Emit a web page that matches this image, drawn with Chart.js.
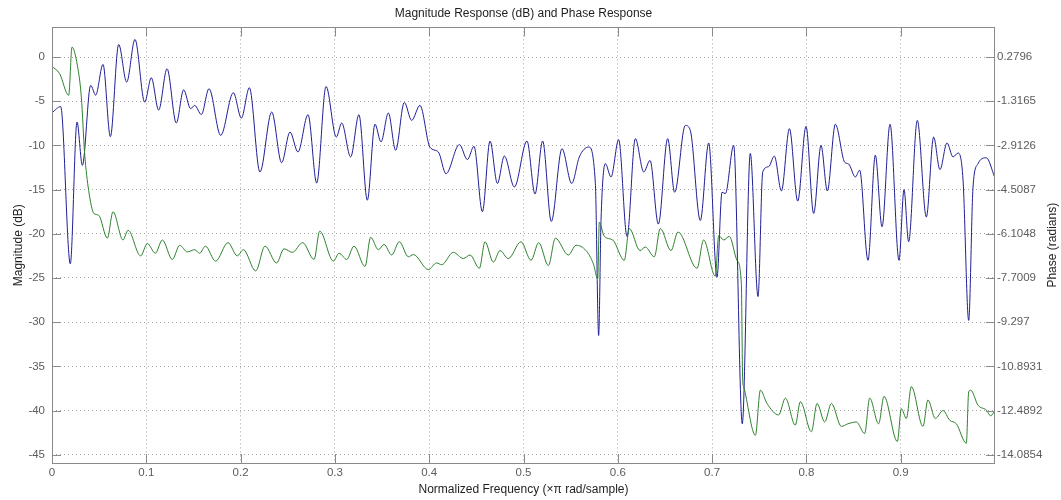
<!DOCTYPE html>
<html>
<head>
<meta charset="utf-8">
<script src="https://cdn.jsdelivr.net/npm/chart.js@4/dist/chart.umd.min.js"></script>
<style>
  body { margin: 0; background: #ffffff; }
  canvas { display: block; }
</style>
</head>
<body>
<canvas id="freqz" width="1061" height="500"></canvas>
<script>
// Magnitude response (blue): frequency (x pi rad/sample) and dB
const magFreq = [0.000, 0.0092, 0.0194, 0.0265, 0.0322, 0.041, 0.0463, 0.0541, 0.0619, 0.0707,
  0.0792, 0.088, 0.0983, 0.1053, 0.1131, 0.122, 0.1318, 0.1396, 0.147, 0.1513,
  0.1584, 0.1665, 0.1789, 0.1923, 0.2008, 0.2093, 0.2205, 0.233, 0.2435, 0.2524,
  0.2608, 0.2715, 0.2807, 0.2906, 0.3015, 0.3072, 0.3167, 0.3255, 0.3344, 0.3425,
  0.3489, 0.3567, 0.3644, 0.3736, 0.3814, 0.3902, 0.4008, 0.4097, 0.4178, 0.432,
  0.4405, 0.4475, 0.4564, 0.4645, 0.4723, 0.4797, 0.4903, 0.5037, 0.5122, 0.5203,
  0.5295, 0.5408, 0.5511, 0.5592, 0.5691, 0.5762, 0.5797, 0.5822, 0.5868, 0.5928,
  0.6009, 0.6098, 0.6186, 0.6275, 0.6342, 0.643, 0.6529, 0.6603, 0.6716, 0.6769,
  0.6875, 0.6964, 0.7052, 0.7105, 0.7141, 0.7229, 0.732, 0.7405, 0.7487, 0.7537,
  0.76, 0.766, 0.7735, 0.782, 0.7908, 0.7996, 0.8077, 0.8155, 0.8222, 0.8307,
  0.8406, 0.8448, 0.8519, 0.8565, 0.8653, 0.8731, 0.8802, 0.8887, 0.8982, 0.9035,
  0.9084, 0.9176, 0.9272, 0.9349, 0.9416, 0.9491, 0.9555, 0.9608, 0.9661, 0.9721,
  0.9767, 0.982, 0.9908, 0.9996];
const magDb = [-6.3, -5.6, -23.4, -7.35, -12.25, -3.2, -4.3, -0.83, -9.0, 1.43,
  -2.83, 2.0, -5.1, -2.34, -6.0, -1.32, -7.46, -3.7, -5.84, -5.47,
  -6.5, -3.58, -8.86, -4.03, -6.9, -3.47, -13.0, -6.22, -11.95, -8.48,
  -10.74, -6.52, -14.25, -3.32, -9.05, -7.46, -11.3, -6.52, -16.2, -7.6,
  -9.6, -6.33, -10.55, -5.13, -7.16, -5.47, -10.2, -10.74, -13.2, -9.9,
  -11.6, -10.1, -17.5, -9.5, -14.3, -11.2, -14.7, -9.5, -15.5, -9.5,
  -18.6, -10.37, -14.3, -11.3, -10.18, -14.3, -31.5, -18.5, -12.06, -13.57,
  -9.35, -20.3, -9.23, -13.0, -11.7, -18.9, -9.23, -15.3, -7.73, -8.3,
  -18.5, -9.72, -24.9, -15.3, -15.45, -10.0, -41.5, -10.9, -27.1, -13.0,
  -12.4, -11.2, -15.15, -8.1, -16.3, -7.84, -17.7, -10.0, -15.15, -7.6,
  -11.9, -12.1, -13.57, -12.8, -23.0, -11.1, -19.2, -7.6, -23.0, -15.0,
  -20.9, -7.16, -18.1, -9.05, -12.74, -9.72, -11.3, -10.86, -13.9, -29.8,
  -14.7, -12.06, -11.4, -13.57];

// Phase response (green), in radians
const phaseFreq = [0.000, 0.0081, 0.0177, 0.0212, 0.0269, 0.0311, 0.0346, 0.0389, 0.0445, 0.0495,
  0.0587, 0.0647, 0.0753, 0.0806, 0.094, 0.1011, 0.1096, 0.117, 0.1276, 0.1354,
  0.1435, 0.1513, 0.1566, 0.1626, 0.1735, 0.1866, 0.1965, 0.2029, 0.216, 0.2259,
  0.2382, 0.246, 0.2549, 0.2658, 0.2779, 0.2839, 0.2984, 0.3044, 0.3125, 0.3203,
  0.3319, 0.3379, 0.3461, 0.3521, 0.3602, 0.3683, 0.3779, 0.3832, 0.3991, 0.4079,
  0.4132, 0.4256, 0.4362, 0.4433, 0.4532, 0.4592, 0.468, 0.4751, 0.4839, 0.4973,
  0.508, 0.5161, 0.5264, 0.5338, 0.5476, 0.5557, 0.5663, 0.5741, 0.5787, 0.5804,
  0.5857, 0.5946, 0.6069, 0.6122, 0.6235, 0.6292, 0.6387, 0.6451, 0.6564, 0.6638,
  0.684, 0.691, 0.7034, 0.707, 0.7123, 0.7183, 0.7264, 0.731, 0.7324, 0.7335,
  0.7459, 0.7512, 0.7582, 0.7706, 0.7777, 0.7882, 0.7936, 0.8053, 0.8113, 0.8194,
  0.8265, 0.8371, 0.8441, 0.853, 0.8618, 0.8671, 0.8766, 0.8823, 0.8964, 0.9007,
  0.906, 0.9113, 0.9236, 0.9289, 0.9367, 0.9449, 0.9519, 0.959, 0.9696, 0.9721,
  0.9742, 0.982, 0.9908, 0.9954, 1.0];
const phaseRad = [-0.059, -0.320, -1.103, 0.640, -0.020, -1.163, -3.200, -4.541, -5.371, -5.434,
  -6.264, -5.307, -6.328, -5.977, -6.903, -6.456, -6.807, -6.328, -7.031, -6.520,
  -6.759, -6.679, -6.807, -6.552, -7.094, -6.424, -6.903, -6.679, -7.446, -6.552,
  -7.158, -6.647, -6.775, -6.424, -7.031, -6.009, -7.094, -6.807, -7.031, -6.552,
  -7.286, -6.232, -6.679, -6.488, -6.871, -6.392, -6.935, -6.855, -7.398, -7.158,
  -7.222, -6.775, -6.999, -6.871, -7.350, -6.392, -7.126, -6.711, -6.999, -6.392,
  -7.062, -6.424, -7.254, -6.264, -6.871, -6.520, -6.711, -7.190, -7.733, -5.690,
  -6.200, -6.328, -7.062, -5.913, -6.711, -6.584, -6.935, -5.913, -6.711, -6.041,
  -7.350, -6.328, -7.637, -6.168, -6.328, -6.200, -7.062, -7.892, -11.340, -11.627,
  -13.383, -11.755, -12.234, -12.649, -12.042, -13.016, -12.170, -13.255, -12.234, -12.904,
  -12.234, -13.064, -12.968, -12.904, -13.319, -12.042, -12.968, -11.978, -13.606, -12.425,
  -12.777, -11.627, -13.064, -12.106, -12.777, -12.489, -12.840, -12.968, -13.670, -11.819,
  -11.755, -12.298, -12.473, -12.681, -12.489];

// tick labels
const freqTicks = [0, 0.1, 0.2, 0.3, 0.4, 0.5, 0.6, 0.7, 0.8, 0.9];
const magTicks = [-45, -40, -35, -30, -25, -20, -15, -10, -5, 0];
const phaseTicks = [-14.0854, -12.4892, -10.8931, -9.297, -7.7009, -6.1048, -4.5087, -2.9126, -1.3165, 0.2796];

const fontFamily = '"Liberation Sans", Arial, Helvetica, sans-serif';
const tickColor = '#5c5c5c';
const axisColor = '#8a8a8a';
const gridColor = '#a6a6a6';

// draws the MATLAB style box with inward tick marks, and the right axis title
const boxPlugin = {
    id: 'matlabBox',
    afterDraw(chart) {
        const ctx = chart.ctx;
        const a = chart.chartArea;
        const sx = chart.scales.x, sy = chart.scales.y, sp = chart.scales.y1;
        const len = 9;
        ctx.save();
        ctx.strokeStyle = axisColor;
        ctx.lineWidth = 1;
        ctx.strokeRect(Math.round(a.left) + 0.5, Math.round(a.top) + 0.5,
            Math.round(a.right - a.left) - 1, Math.round(a.bottom - a.top));
        ctx.beginPath();
        freqTicks.forEach((v) => {
            const px = Math.round(sx.getPixelForValue(v)) + 0.5;
            ctx.moveTo(px, a.bottom); ctx.lineTo(px, a.bottom - len);
            ctx.moveTo(px, a.top); ctx.lineTo(px, a.top + len);
        });
        magTicks.forEach((v) => {
            const py = Math.round(sy.getPixelForValue(v)) + 0.5;
            ctx.moveTo(a.left, py); ctx.lineTo(a.left + len, py);
        });
        phaseTicks.forEach((v) => {
            const py = Math.round(sp.getPixelForValue(v)) + 0.5;
            ctx.moveTo(a.right, py); ctx.lineTo(a.right - len, py);
        });
        ctx.stroke();
        // right axis title, reading bottom to top like the left one
        ctx.translate(1053, (a.top + a.bottom) / 2);
        ctx.rotate(-Math.PI / 2);
        ctx.fillStyle = '#1e1e1e';
        ctx.font = '12px ' + fontFamily;
        ctx.textAlign = 'center';
        ctx.textBaseline = 'middle';
        ctx.fillText('Phase (radians)', 0, 0);
        ctx.restore();
    }
};

const ctx = document.getElementById('freqz').getContext('2d');
const chart = new Chart(ctx, {
    type: 'line',
    data: {
        datasets: [{
            label: 'Magnitude (dB)',
            data: magFreq.map((f, i) => ({ x: f, y: magDb[i] })),
            borderColor: '#1f1f96',
            borderWidth: 1,
            pointRadius: 0,
            cubicInterpolationMode: 'monotone',
            yAxisID: 'y',
            order: 2
        }, {
            label: 'Phase (radians)',
            data: phaseFreq.map((f, i) => ({ x: f, y: phaseRad[i] })),
            borderColor: '#2f802f',
            borderWidth: 1,
            pointRadius: 0,
            cubicInterpolationMode: 'monotone',
            yAxisID: 'y1',
            order: 1
        }]
    },
    options: {
        responsive: false,
        animation: false,
        layout: { padding: 0 },
        plugins: {
            legend: { display: false },
            tooltip: { enabled: false },
            title: {
                display: true,
                fullSize: false,
                text: 'Magnitude Response (dB) and Phase Response',
                color: '#1e1e1e',
                font: { family: fontFamily, size: 12, weight: 'normal' },
                padding: { top: 6, bottom: 7 }
            }
        },
        scales: {
            x: {
                type: 'linear',
                min: 0,
                max: 1,
                afterBuildTicks: (scale) => { scale.ticks = freqTicks.map((v) => ({ value: v })); },
                afterFit: (scale) => { scale.height = 37; },
                ticks: {
                    color: tickColor,
                    font: { family: fontFamily, size: 11.5 },
                    padding: 3,
                    maxRotation: 0,
                    callback: (v) => String(v)
                },
                grid: { color: gridColor, drawTicks: false },
                border: { display: false, dash: [1, 3] },
                title: {
                    display: true,
                    text: 'Normalized Frequency (\u00d7\u03c0 rad/sample)',
                    color: '#1e1e1e',
                    font: { family: fontFamily, size: 12 },
                    padding: { top: 0, bottom: 3 }
                }
            },
            y: {
                position: 'left',
                min: -45.94,
                max: 3.36,
                afterBuildTicks: (scale) => { scale.ticks = magTicks.map((v) => ({ value: v })); },
                afterFit: (scale) => { scale.width = 52; },
                ticks: {
                    color: tickColor,
                    font: { family: fontFamily, size: 11.5 },
                    padding: 7,
                    callback: (v) => String(v)
                },
                grid: { color: gridColor, drawTicks: false },
                border: { display: false, dash: [1, 3] },
                title: {
                    display: true,
                    text: 'Magnitude (dB)',
                    color: '#1e1e1e',
                    font: { family: fontFamily, size: 12 },
                    padding: { top: 11, bottom: 0 }
                }
            },
            y1: {
                position: 'right',
                min: -14.3854,
                max: 1.3522,
                afterBuildTicks: (scale) => { scale.ticks = phaseTicks.map((v) => ({ value: v })); },
                afterFit: (scale) => { scale.width = 66; },
                ticks: {
                    color: tickColor,
                    font: { family: fontFamily, size: 11.5 },
                    padding: 2,
                    callback: (v) => String(v)
                },
                grid: { drawOnChartArea: false, drawTicks: false },
                border: { display: false }
            }
        }
    },
    plugins: [boxPlugin]
});
</script>
</body>
</html>
